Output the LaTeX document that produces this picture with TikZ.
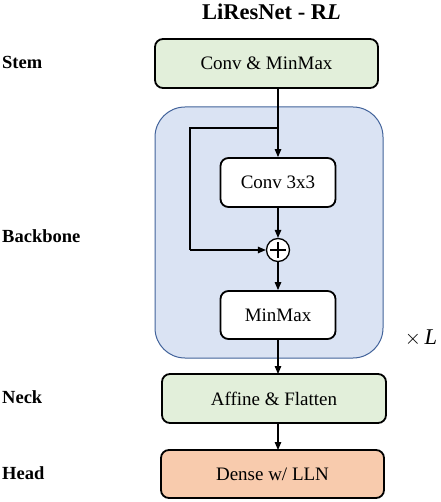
\documentclass[tikz,border=0pt]{standalone}
\usepackage{fontspec}
\setmainfont{Liberation Serif}
\usetikzlibrary{arrows.meta,calc}
\definecolor{greenfill}{HTML}{E2EFDA}
\definecolor{orangefill}{HTML}{F8CBAD}
\definecolor{bluefill}{HTML}{DAE3F3}
\definecolor{blueline}{HTML}{41629A}
\tikzset{
  blk/.style={draw=black, line width=1.8pt, rounded corners=8pt, align=center, font=\fontsize{19}{21}\selectfont, inner sep=0pt},
  conn/.style={line width=1.2pt, -{Triangle[length=8pt,width=6.5pt]}},
  plainline/.style={line width=1.2pt},
  lbl/.style={font=\fontsize{18.5}{20}\selectfont\bfseries, anchor=west, inner sep=0pt}
}
\begin{document}
\begin{tikzpicture}[x=1pt,y=-1pt]
\useasboundingbox (0,0) rectangle (440,502);
% backbone container
\node[draw=blueline, fill=bluefill, line width=1pt, rounded corners=30pt, minimum width=228pt, minimum height=251pt, inner sep=0pt] (bb) at (269,232.5) {};
% title
\node[font=\fontsize{22.5}{24}\selectfont\bfseries, inner sep=0pt] (title) at (271.5,12) {LiResNet - R\textit{L}};
% boxes
\node[blk, fill=greenfill, minimum width=223pt, minimum height=49pt] (stem) at (266.5,63.5) {Conv \& MinMax};
\node[blk, fill=white, minimum width=115pt, minimum height=49pt] (conv) at (278,182.5) {Conv 3x3};
\node[draw=black, line width=1.3pt, circle, minimum size=23pt, inner sep=0pt, fill=white] (plus) at (278,250) {};
\draw[line width=1.3pt] ($(plus.north)+(0,4.5)$) -- ($(plus.south)+(0,-4.5)$);
\draw[line width=1.3pt] ($(plus.west)+(4.5,0)$) -- ($(plus.east)+(-4.5,0)$);
\node[blk, fill=white, minimum width=115pt, minimum height=48pt] (mm) at (278,315) {MinMax};
\node[blk, fill=greenfill, minimum width=224pt, minimum height=49pt] (neck) at (274,398.5) {Affine \& Flatten};
\node[blk, fill=orangefill, minimum width=223pt, minimum height=48pt] (head) at (272.5,474) {Dense w/ LLN};
% coordinates
\coordinate (s1) at (278,88);
\coordinate (br) at (278,128);
\coordinate (bl) at (190,128);
\coordinate (bd) at (190,250);
\coordinate (m1) at (278,374);
\coordinate (n1) at (278,423);
\coordinate (h1) at (278,450);
% connectors
\draw[conn] (s1) -- (conv.north -| s1);
\draw[plainline] (br) -- (bl) -- (bd);
\draw[conn] (bd) -- (plus.west);
\draw[conn] (conv.south) -- (plus.north);
\draw[conn] (plus.south) -- (mm.north);
\draw[conn] (mm.south) -- (m1);
\draw[conn] (n1) -- (h1);
% side labels
\node[lbl] (lstem) at (2,62) {Stem};
\node[lbl] (lbb) at (2,236) {Backbone};
\node[lbl] (lneck) at (2,397) {Neck};
\node[lbl] (lhead) at (2,473) {Head};
\node[font=\fontsize{22.5}{24}\selectfont, inner sep=0pt] (times) at (421,338) {$\times$\,\textit{L}};
\end{tikzpicture}
\end{document}
